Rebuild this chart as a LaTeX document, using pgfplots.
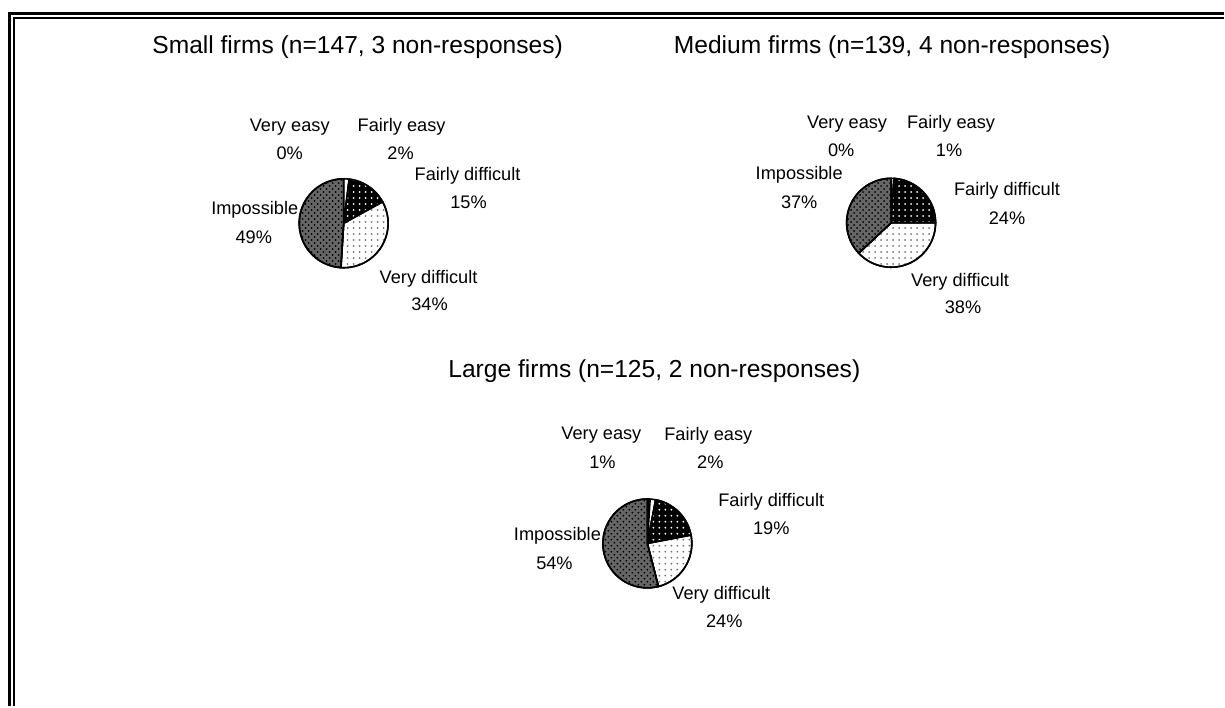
\documentclass[border=0pt]{standalone}
\usepackage{pgfplots}
\pgfplotsset{compat=1.18}
\usetikzlibrary{patterns}
\usepackage{fontspec}
\setmainfont{Liberation Sans}

% one pie slice: centre x, centre y, cumulative % at start, cumulative % at end, style
\newcommand{\slice}[5]{%
  \addplot[draw=black, line width=0.8pt, line join=round, #5,
           domain={90-3.6*#4}:{90-3.6*#3}, samples=40, variable=\t]
    ({#1+44.5*cos(\t)}, {#2-44.5*sin(\t)}) -- (axis cs:#1,#2) -- cycle;
}
\tikzset{
  veasy/.style={fill=black},
  feasy/.style={fill=white},
  fdiff/.style={fill=black, postaction={pattern=dots, pattern color=white}},
  vdiff/.style={fill=white, postaction={pattern=dots, pattern color=black!55}},
  imposs/.style={fill=black!60, postaction={pattern=crosshatch dots, pattern color=black}},
  lab/.style={font=\fontsize{9.1}{10}\selectfont, inner sep=0pt, anchor=center},
  ttl/.style={font=\fontsize{12.3}{13}\selectfont, inner sep=0pt, anchor=center},
}

\begin{document}
\begin{tikzpicture}
\begin{axis}[
    width=612.5pt, height=353.5pt, scale only axis,
    xmin=0, xmax=1225, ymin=0, ymax=707, y dir=reverse,
    hide axis, clip=false]

  % frame
  \draw[line width=1.25pt] (axis cs:9.7,707) -- (axis cs:9.7,13.7) -- (axis cs:1225,13.7);
  \draw[line width=1pt] (axis cs:14.5,707) -- (axis cs:14.5,18.3) -- (axis cs:1225,18.3);

  % Small firms: 0, 2, 15, 34, 49
  \slice{344}{223.5}{0}{2}{feasy}
  \slice{344}{223.5}{2}{17}{fdiff}
  \slice{344}{223.5}{17}{51}{vdiff}
  \slice{344}{223.5}{51}{100}{imposs}

  % Medium firms: 0, 1, 24, 38, 37
  \slice{892}{223}{0}{1}{feasy}
  \slice{892}{223}{1}{25}{fdiff}
  \slice{892}{223}{25}{63}{vdiff}
  \slice{892}{223}{63}{100}{imposs}

  % Large firms: 1, 2, 19, 24, 54
  \slice{648}{544}{0}{1}{veasy}
  \slice{648}{544}{1}{3}{feasy}
  \slice{648}{544}{3}{22}{fdiff}
  \slice{648}{544}{22}{46}{vdiff}
  \slice{648}{544}{46}{100}{imposs}

  % titles
  \node[ttl] at (axis cs:358,47) {Small firms (n=147, 3 non-responses)};
  \node[ttl] at (axis cs:893,47) {Medium firms (n=139, 4 non-responses)};
  \node[ttl] at (axis cs:655,372) {Large firms (n=125, 2 non-responses)};

  % small labels
  \node[lab] at (axis cs:290,127) {Very easy};   \node[lab] at (axis cs:290,153) {0\%};
  \node[lab] at (axis cs:402,127) {Fairly easy}; \node[lab] at (axis cs:401,153) {2\%};
  \node[lab] at (axis cs:468,176) {Fairly difficult}; \node[lab] at (axis cs:469,202) {15\%};
  \node[lab] at (axis cs:429,279) {Very difficult};   \node[lab] at (axis cs:430,305) {34\%};
  \node[lab] at (axis cs:255,210) {Impossible}; \node[lab] at (axis cs:254,237) {49\%};

  % medium labels
  \node[lab] at (axis cs:848,124) {Very easy};   \node[lab] at (axis cs:842,150) {0\%};
  \node[lab] at (axis cs:952,124) {Fairly easy}; \node[lab] at (axis cs:950,150) {1\%};
  \node[lab] at (axis cs:1008,191) {Fairly difficult}; \node[lab] at (axis cs:1008,218) {24\%};
  \node[lab] at (axis cs:961,282) {Very difficult};    \node[lab] at (axis cs:964,308) {38\%};
  \node[lab] at (axis cs:800,175) {Impossible}; \node[lab] at (axis cs:800,202) {37\%};

  % large labels
  \node[lab] at (axis cs:602,436) {Very easy};   \node[lab] at (axis cs:603,463) {1\%};
  \node[lab] at (axis cs:709,436) {Fairly easy}; \node[lab] at (axis cs:711,463) {2\%};
  \node[lab] at (axis cs:772,502) {Fairly difficult}; \node[lab] at (axis cs:772,529) {19\%};
  \node[lab] at (axis cs:722,595) {Very difficult};   \node[lab] at (axis cs:725,622) {24\%};
  \node[lab] at (axis cs:558,536) {Impossible}; \node[lab] at (axis cs:555,564) {54\%};

  \path (axis cs:0,0) rectangle (axis cs:1225,707);
\end{axis}
\end{tikzpicture}
\end{document}
